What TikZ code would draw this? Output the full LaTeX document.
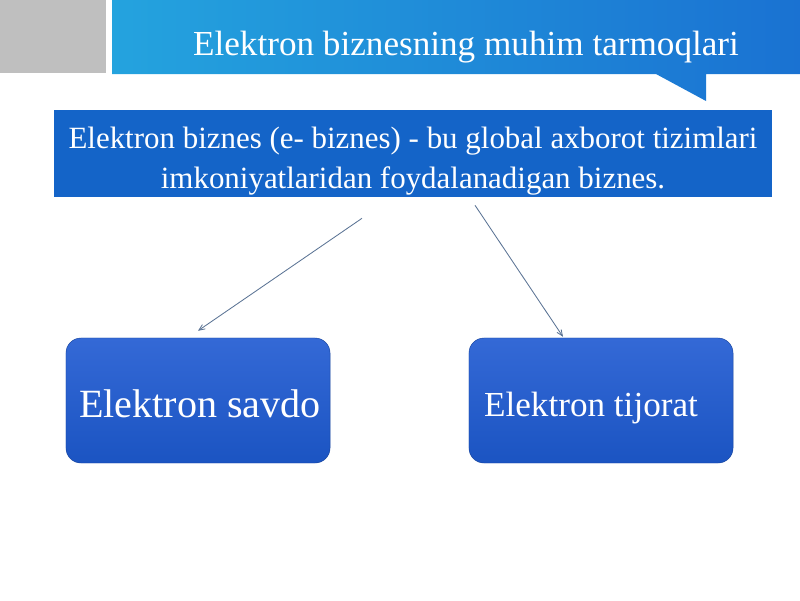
\documentclass[tikz,border=0pt]{standalone}
\usepackage{fontspec}
\setmainfont{Liberation Serif}
\usepackage{xcolor}
\usetikzlibrary{
    arrows,
    calc,
    positioning
}
\definecolor{slidegray}{HTML}{BFBFBF}
\definecolor{bannerleft}{HTML}{24A3DE}
\definecolor{bannerright}{HTML}{1A72D2}
\definecolor{defblue}{HTML}{1464C8}
\definecolor{boxtop}{HTML}{3469D6}
\definecolor{boxbottom}{HTML}{1B54C2}
\definecolor{arrowgray}{HTML}{5A7394}

\begin{document}
\begin{tikzpicture}[x=0.025cm, y=-0.025cm,
    defbox/.style={fill=defblue, text=white, minimum width=17.95cm,
        minimum height=2.175cm, align=center, inner sep=0pt,
        font=\fontsize{22}{28.5}\selectfont},
    branch/.style={rounded corners=0.375cm, top color=boxtop,
        bottom color=boxbottom, draw=boxbottom!80!black, line width=0.3pt,
        text=white, minimum width=6.6cm, minimum height=3.125cm,
        inner sep=0pt, text depth=0pt},
    link/.style={draw=arrowgray, line width=0.6pt, ->, >=angle 45}]
                        \useasboundingbox (0, 0) rectangle (800, 600);
                        % title strip
                        \fill[slidegray] (0, 0) rectangle (106, 73);
                        \shade[left color=bannerleft, right color=bannerright]
                        (112, 0) -- (800, 0) -- (800, 74) -- (706, 74)
                        -- (706, 101) -- (656, 74) -- (112, 74) -- cycle;
                        \node[text=white, font=\fontsize{25}{30}\selectfont,
                        text height=15pt, text depth=0pt]
                        (title) at (466, 45) {Elektron biznesning muhim tarmoqlari};
                        % definition
                        \node[defbox] (def) at (413, 153.5)
                        {\rule{0pt}{25.5pt}Elektron biznes (e- biznes) - bu global axborot tizimlari\\
                        imkoniyatlaridan foydalanadigan biznes.};
                        % two branches
                        \node[branch, font=\fontsize{28.5}{32}\selectfont,
                        text height=24.5pt]
                        (savdo) at (198, 400.5) {\hspace*{0.1cm}Elektron savdo};
                        \node[branch, font=\fontsize{25}{30}\selectfont,
                        text height=23pt]
                        (tijorat) at (601, 400.5) {Elektron tijorat\hspace*{0.5cm}};
                        \draw[link]
                        ([xshift=-1.275cm, yshift=-0.525cm]def.south)
                        -- ([yshift=0.175cm]savdo.north);
                        \draw[link]
                        ([xshift=1.55cm, yshift=-0.2cm]def.south)
                        -- ([xshift=-0.95cm, yshift=0.025cm]tijorat.north);
                    \end{tikzpicture}
\end{document}
